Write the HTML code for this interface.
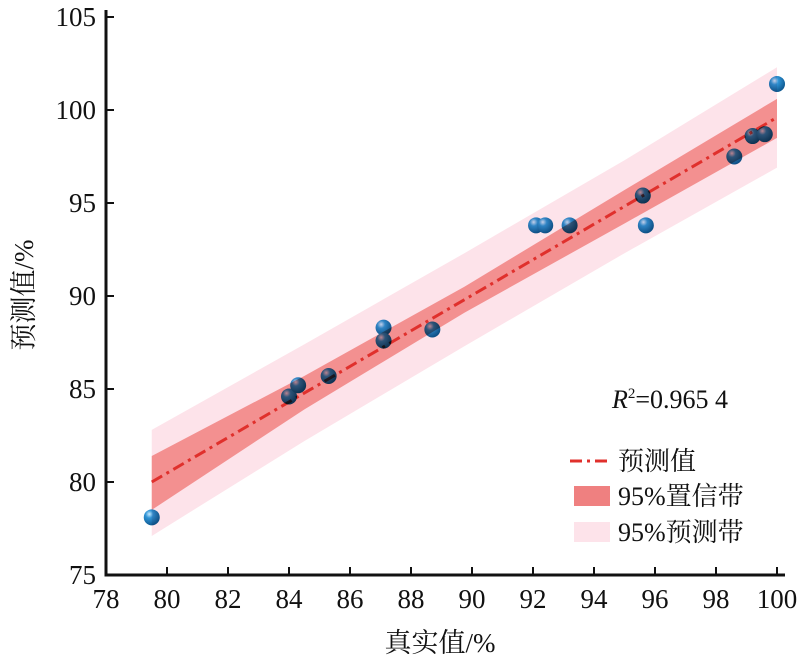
<!DOCTYPE html>
<html><head><meta charset="utf-8"><style>
body{margin:0;background:#fff}
svg text{font-family:"Liberation Serif","Noto Serif CJK SC",serif;fill:#111}
</style></head><body>
<svg width="800" height="666">
<defs><radialGradient id="g" cx="0.35" cy="0.3" r="0.7"><stop offset="0" stop-color="#c6eaff"/><stop offset="0.35" stop-color="#2f94d6"/><stop offset="1" stop-color="#0f5a92"/></radialGradient></defs>
<g id="pts"></g><g id="bands" style="mix-blend-mode:multiply"></g><g id="axes"></g>
<text x="612" y="408" font-size="26"><tspan font-style="italic">R</tspan><tspan font-size="15" dy="-10">2</tspan><tspan dy="10">=0.965 4</tspan></text>
<g>
<line x1="570" y1="461" x2="612" y2="461" stroke="#e0302c" stroke-width="3" stroke-dasharray="12,5,3,5"/>
<text x="618" y="470" font-size="26">预测值</text>
<rect x="574" y="486" width="36" height="20" fill="#ef8080"/>
<text x="618" y="505" font-size="26">95%置信带</text>
<rect x="574" y="522" width="36" height="20" fill="#fde3ea"/>
<text x="618" y="541" font-size="26">95%预测带</text>
</g>
<text x="440" y="652" font-size="27" text-anchor="middle">真实值/%</text>
<text transform="translate(33,295) rotate(-90)" font-size="27" text-anchor="middle">预测值/%</text>
</svg>
<script>
const xTicks=[78,80,82,84,86,88,90,92,94,96,98,100];
const yTicks=[75,80,85,90,95,100,105];
const ptX=[79.5,84.0,84.3,85.3,87.1,87.1,88.7,92.1,92.4,93.2,95.6,95.7,98.6,99.2,99.6,100];
const ptY=[78.1,84.6,85.2,85.7,88.3,87.6,88.2,93.8,93.8,93.8,95.4,93.8,97.5,98.6,98.7,101.4];
const lineX=[79.5,100];
const lineY=[80.0,99.6];
const bandX=[79.5,84.5,89.75,95,100];
const confLo=[78.5,83.9,89.1,93.9,98.5];
const confHi=[81.4,85.7,90.5,95.7,100.6];
const predLo=[77.1,82.2,87.3,92.3,96.9];
const predHi=[82.8,87.4,92.3,97.3,102.3];
const X=v=>106+(v-78)*30.5, Y=v=>575-(v-75)*18.6;
const NS="http://www.w3.org/2000/svg";
function mk(t,a,p){const e=document.createElementNS(NS,t);for(const k in a)e.setAttribute(k,a[k]);p.appendChild(e);return e;}
const B=document.getElementById('bands'),P=document.getElementById('pts'),A=document.getElementById('axes');
function band(lo,hi,fill,name){
let d='M'+bandX.map((x,i)=>X(x)+','+Y(lo[i])).join('L');
for(let i=bandX.length-1;i>=0;i--)d+='L'+X(bandX[i])+','+Y(hi[i]);
d+='Z';
const e=mk('path',{d:d,fill:fill},B);

}
band(predLo,predHi,'#fde3ea','prediction-band');
band(confLo,confHi,'#f39090','confidence-band');
const ln=mk('line',{x1:X(lineX[0]),y1:Y(lineY[0]),x2:X(lineX[1]),y2:Y(lineY[1]),stroke:'#e0302c','stroke-width':3,'stroke-dasharray':'12,5,3,5'},B);


ptX.forEach((x,i)=>{const c=mk('circle',{cx:X(x),cy:Y(ptY[i]),r:8,fill:'url(#g)'},P);

});
const ax=mk('path',{d:`M106,10V575H785`,fill:'none',stroke:'#111','stroke-width':3},A);


xTicks.forEach(v=>{const t=mk('line',{x1:X(v),x2:X(v),y1:575,y2:567,stroke:'#111','stroke-width':2},A);


const l=mk('text',{x:X(v),y:608,'font-size':27,'text-anchor':'middle'},A);l.textContent=v;

});
yTicks.forEach(v=>{const t=mk('line',{x1:106,x2:114,y1:Y(v),y2:Y(v),stroke:'#111','stroke-width':2},A);


const l=mk('text',{x:96,y:Y(v)+9,'font-size':27,'text-anchor':'end'},A);l.textContent=v;

});
</script>
</body></html>
